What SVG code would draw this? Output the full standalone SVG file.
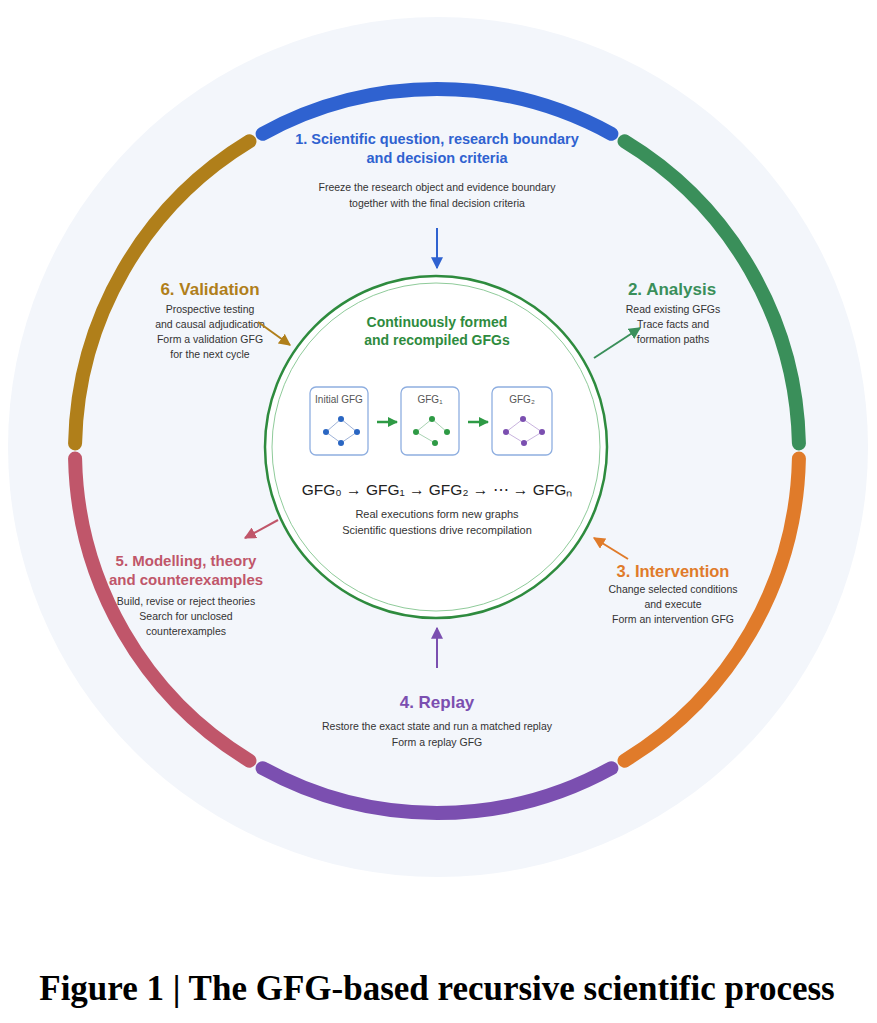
<svg xmlns="http://www.w3.org/2000/svg" width="877" height="1023" viewBox="0 0 877 1023">
<style>
.seg{fill:none;stroke-width:14;stroke-linecap:round}
.h{font-family:"Liberation Sans",Arial,sans-serif;font-weight:bold;text-anchor:middle}
.t{font-family:"Liberation Sans",Arial,sans-serif;font-size:10.5px;fill:#333;text-anchor:middle}
.box{fill:#fff;stroke:#8eaee0;stroke-width:1.3}
.e{stroke-width:1;fill:none}
</style>
<defs>
<marker id="ab" viewBox="0 0 10 10" refX="9" refY="5" markerWidth="6" markerHeight="6" orient="auto"><path d="M0,0L10,5L0,10z" fill="#2f62d0"/></marker>
<marker id="ag" viewBox="0 0 10 10" refX="9" refY="5" markerWidth="6" markerHeight="6" orient="auto"><path d="M0,0L10,5L0,10z" fill="#3a8f5a"/></marker>
<marker id="ao" viewBox="0 0 10 10" refX="9" refY="5" markerWidth="6" markerHeight="6" orient="auto"><path d="M0,0L10,5L0,10z" fill="#e07b2a"/></marker>
<marker id="ap" viewBox="0 0 10 10" refX="9" refY="5" markerWidth="6" markerHeight="6" orient="auto"><path d="M0,0L10,5L0,10z" fill="#7b4fb0"/></marker>
<marker id="ar" viewBox="0 0 10 10" refX="9" refY="5" markerWidth="6" markerHeight="6" orient="auto"><path d="M0,0L10,5L0,10z" fill="#c0566a"/></marker>
<marker id="ay" viewBox="0 0 10 10" refX="9" refY="5" markerWidth="6" markerHeight="6" orient="auto"><path d="M0,0L10,5L0,10z" fill="#b07f1a"/></marker>
<marker id="ak" viewBox="0 0 10 10" refX="9" refY="5" markerWidth="4" markerHeight="4" orient="auto"><path d="M0,0L10,5L0,10z" fill="#2e9a45"/></marker>
</defs>
<rect width="877" height="1023" fill="#fff"/>
<circle cx="438" cy="447" r="430" fill="#f3f6fb"/>
<g id="ring">
<path class="seg" stroke="#3a8f5a" d="M798.92,443.42A362,362 0 0 0 624.53,141.36"/>
<path class="seg" stroke="#2f62d0" d="M611.39,133.78A362,362 0 0 0 262.61,133.78"/>
<path class="seg" stroke="#b07f1a" d="M249.47,141.36A362,362 0 0 0 75.08,443.42"/>
<path class="seg" stroke="#c0566a" d="M75.08,458.58A362,362 0 0 0 249.47,760.64"/>
<path class="seg" stroke="#7b4fb0" d="M262.61,768.22A362,362 0 0 0 611.39,768.22"/>
<path class="seg" stroke="#e07b2a" d="M624.53,760.64A362,362 0 0 0 798.92,458.58"/>
</g>
<g id="center">
<circle cx="436" cy="447" r="171" fill="#fff" stroke="#2e8b3e" stroke-width="2.5"/>
<circle cx="436" cy="447" r="164" fill="none" stroke="#8fcb9a" stroke-width="1"/>
<text class="h" x="437" y="327" font-size="14" fill="#2e8b3e">Continuously formed</text>
<text class="h" x="437" y="345" font-size="14" fill="#2e8b3e">and recompiled GFGs</text>
<g id="g0">
<rect class="box" x="310" y="387" width="58" height="68" rx="6"/>
<text class="t" x="339" y="403" style="font-size:10px;fill:#555">Initial GFG</text>
<path class="e" stroke="#9fb3d8" d="M341,419L326,432L341,443L357,432z"/>
<g fill="#2a66c2"><circle cx="341" cy="419" r="3"/><circle cx="326" cy="432" r="3"/><circle cx="357" cy="432" r="3"/><circle cx="341" cy="443" r="3"/></g>
</g>
<g id="g1">
<rect class="box" x="401" y="387" width="58" height="68" rx="6"/>
<text class="t" x="430" y="403" style="font-size:10px;fill:#555">GFG₁</text>
<path class="e" stroke="#a9d3b3" d="M416,432L432,419L447,432M416,432L435,443"/>
<g fill="#2e9a45"><circle cx="432" cy="419" r="3"/><circle cx="416" cy="432" r="3"/><circle cx="447" cy="432" r="3"/><circle cx="435" cy="443" r="3"/></g>
</g>
<g id="g2">
<rect class="box" x="492" y="387" width="60" height="68" rx="6"/>
<text class="t" x="522" y="403" style="font-size:10px;fill:#555">GFG₂</text>
<path class="e" stroke="#c8b3de" d="M523,419L506,432L524,443L542,432z"/>
<g fill="#7b4fb0"><circle cx="523" cy="419" r="3"/><circle cx="506" cy="432" r="3"/><circle cx="542" cy="432" r="3"/><circle cx="524" cy="443" r="3"/></g>
</g>
<text class="t" x="437" y="495" style="font-size:15.5px;fill:#222">GFG₀ → GFG₁ → GFG₂ → ⋯ → GFGₙ</text>
<text class="t" x="437" y="518" style="font-size:11px">Real executions form new graphs</text>
<text class="t" x="437" y="534" style="font-size:11px">Scientific questions drive recompilation</text>
</g>
<g id="n1">
<text class="h" x="437" y="144" font-size="14.5" fill="#2f62d0">1. Scientific question, research boundary</text>
<text class="h" x="437" y="163" font-size="14.5" fill="#2f62d0">and decision criteria</text>
<text class="t" x="437" y="191">Freeze the research object and evidence boundary</text>
<text class="t" x="437" y="207">together with the final decision criteria</text>
</g>
<g id="n2">
<text class="h" x="672" y="295" font-size="17" fill="#3a8f5a">2. Analysis</text>
<text class="t" x="673" y="313">Read existing GFGs</text>
<text class="t" x="673" y="328">Trace facts and</text>
<text class="t" x="673" y="343">formation paths</text>
</g>
<g id="n3">
<text class="h" x="673" y="577" font-size="16.5" fill="#e07b2a">3. Intervention</text>
<text class="t" x="673" y="593">Change selected conditions</text>
<text class="t" x="673" y="608">and execute</text>
<text class="t" x="673" y="623">Form an intervention GFG</text>
</g>
<g id="n4">
<text class="h" x="437" y="708" font-size="17" fill="#7b4fb0">4. Replay</text>
<text class="t" x="437" y="730">Restore the exact state and run a matched replay</text>
<text class="t" x="437" y="746">Form a replay GFG</text>
</g>
<g id="n5">
<text class="h" x="186" y="566" font-size="15" fill="#c0566a">5. Modelling, theory</text>
<text class="h" x="186" y="585" font-size="15" fill="#c0566a">and counterexamples</text>
<text class="t" x="186" y="605">Build, revise or reject theories</text>
<text class="t" x="186" y="620">Search for unclosed</text>
<text class="t" x="186" y="635">counterexamples</text>
</g>
<g id="n6">
<text class="h" x="210" y="295" font-size="17" fill="#b07f1a">6. Validation</text>
<text class="t" x="210" y="313">Prospective testing</text>
<text class="t" x="210" y="328">and causal adjudication</text>
<text class="t" x="210" y="343">Form a validation GFG</text>
<text class="t" x="210" y="358">for the next cycle</text>
</g>
<g id="connectors" stroke-width="2" fill="none">
<path d="M437,228V268" stroke="#2f62d0" marker-end="url(#ab)"/>
<path d="M594,358L640,328" stroke="#3a8f5a" marker-end="url(#ag)"/>
<path d="M628,559L594,538" stroke="#e07b2a" marker-end="url(#ao)"/>
<path d="M437,668V628" stroke="#7b4fb0" marker-end="url(#ap)"/>
<path d="M278,520L245,538" stroke="#c0566a" marker-end="url(#ar)"/>
<path d="M258,322L290,345" stroke="#b07f1a" marker-end="url(#ay)"/>
<path d="M377,422H397" stroke="#2e9a45" stroke-width="2.5" marker-end="url(#ak)"/>
<path d="M468,422H488" stroke="#2e9a45" stroke-width="2.5" marker-end="url(#ak)"/>
</g>
<text x="437" y="1000" font-family="'Liberation Serif','Times New Roman',serif" font-weight="bold" font-size="35" text-anchor="middle" fill="#000">Figure 1 | The GFG-based recursive scientific process</text>
</svg>
